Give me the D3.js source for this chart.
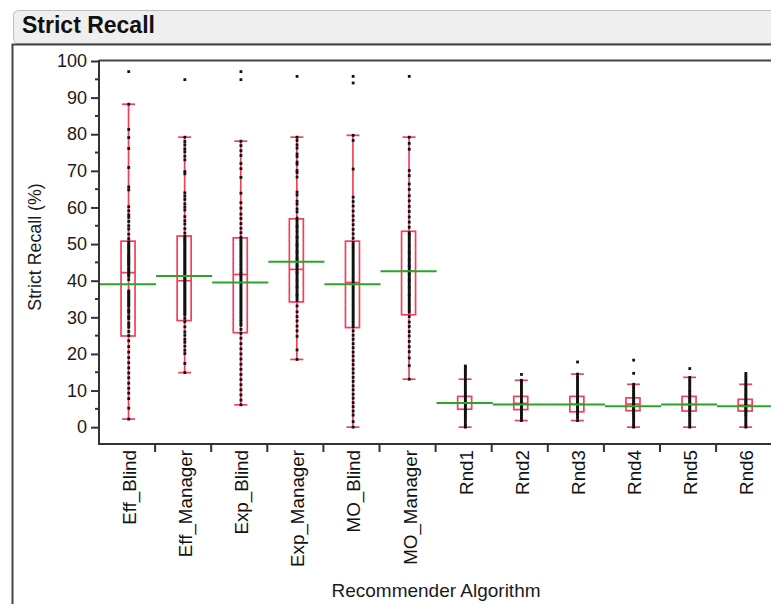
<!DOCTYPE html>
<html>
<head>
<meta charset="utf-8">
<script src="https://cdn.jsdelivr.net/npm/d3@7"></script>
<style>
html,body{margin:0;padding:0;background:#fff;}
svg{display:block;font-family:"Liberation Sans",Arial,sans-serif;}
</style>
</head>
<body>
<svg id="chart" width="771" height="604"></svg>
<script>
const categories = ["Eff_Blind","Eff_Manager","Exp_Blind","Exp_Manager","MO_Blind","MO_Manager","Rnd1","Rnd2","Rnd3","Rnd4","Rnd5","Rnd6"];
const whiskerLow  = [2.2, 14.9, 6.1, 18.5, 0.0, 13.1, 0.0, 1.8, 1.8, 0.0, 0.0, 0.0];
const q1          = [24.9, 29.1, 25.8, 34.2, 27.2, 30.7, 4.9, 4.8, 4.2, 4.5, 4.4, 4.4];
const median      = [42.2, 40.0, 41.7, 43.1, 39.5, 42.6, 6.6, 6.5, 6.3, 6.3, 6.2, 6.0];
const q3          = [50.8, 52.2, 51.7, 56.9, 50.8, 53.5, 8.4, 8.4, 8.4, 8.0, 8.4, 7.6];
const whiskerHigh = [88.2, 79.2, 78.1, 79.2, 79.7, 79.2, 13.1, 12.8, 14.5, 11.7, 13.6, 11.7];
const means       = [39.0, 41.3, 39.5, 45.2, 39.0, 42.6, 6.6, 6.2, 6.2, 5.7, 6.2, 5.7];
const yTicks = [0,10,20,30,40,50,60,70,80,90,100];

const ptsEffBlind = [97.1,88.2,81.3,79.1,76.1,70.9,65.6,64.8,60.2,59.1,58.0,57.3,56.2,55.0,54.1,52.7,51.5,50.6,50.0,49.6,49.2,48.8,48.4,47.8,47.4,47.0,46.6,46.3,45.9,45.5,45.1,44.8,44.4,44.0,43.4,43.0,42.6,42.0,41.6,41.2,40.3,37.2,36.8,36.4,35.9,35.5,35.0,34.6,34.2,33.8,33.4,33.0,32.1,31.7,31.3,30.4,30.0,29.6,28.5,27.9,27.3,26.1,25.0,23.6,22.0,20.5,19.0,17.6,16.2,14.8,13.5,12.0,10.6,9.3,7.8,5.2,2.2];
const ptsEffManager = [94.9,79.2,78.0,77.1,76.0,75.2,74.0,73.0,69.8,69.2,64.0,63.1,62.2,61.0,60.1,59.3,57.5,56.4,55.5,54.2,53.0,52.1,51.6,51.2,50.8,50.4,49.9,49.5,49.0,48.6,48.1,47.7,47.2,46.8,46.3,45.9,45.4,45.0,44.5,44.1,43.6,43.2,42.7,42.3,41.9,41.4,40.9,40.5,40.0,39.6,39.1,38.7,38.2,37.8,37.3,36.9,36.4,36.0,35.5,35.1,34.6,34.2,33.7,33.3,32.8,32.4,31.9,31.5,31.0,30.6,29.7,28.8,27.4,26.0,25.1,24.0,23.2,22.1,21.0,20.1,17.4,14.9];
const ptsExpBlind = [97.1,94.9,78.1,76.9,75.5,74.2,72.0,70.6,68.2,63.9,61.3,59.8,58.2,57.0,55.6,54.3,53.1,51.9,51.3,50.8,50.2,49.7,49.1,48.6,48.0,47.5,46.9,46.4,45.8,45.3,44.7,44.2,43.6,43.1,42.5,42.0,41.5,41.0,40.4,39.9,39.3,38.8,38.2,37.7,37.1,36.6,36.0,35.5,34.9,34.4,33.8,33.3,32.7,32.2,31.6,31.1,30.5,30.0,29.4,28.9,28.3,27.8,26.7,25.6,24.3,22.8,21.4,20.0,18.6,17.2,15.8,14.4,13.0,11.6,10.2,8.8,7.4,6.1];
const ptsExpManager = [95.8,79.2,78.3,77.1,76.2,74.6,73.9,72.4,71.8,70.1,69.5,68.3,64.2,63.4,61.7,60.9,59.6,58.8,57.1,56.5,55.9,55.2,54.8,54.4,53.7,53.1,52.3,51.9,51.6,50.9,50.2,49.8,49.5,48.9,48.3,47.9,47.6,47.0,46.4,46.0,45.7,45.1,44.5,44.1,43.8,43.2,42.6,42.2,41.9,41.3,40.7,40.2,39.8,39.2,38.6,38.2,37.9,37.2,36.5,36.1,35.8,35.2,34.6,33.1,31.5,30.2,29.0,27.6,26.3,24.8,21.1,18.5];
const ptsMOBlind = [95.8,94.0,79.7,78.3,70.5,62.8,61.6,60.4,59.0,57.7,56.5,55.3,54.0,52.8,51.6,50.4,49.8,49.3,48.7,48.1,47.5,47.0,46.4,45.8,45.2,44.7,44.1,43.5,42.9,42.4,41.8,41.2,40.6,40.1,39.5,38.9,38.3,37.8,37.2,36.6,36.0,35.5,34.9,34.3,33.7,33.2,32.6,32.0,31.4,30.9,30.3,29.7,29.1,28.6,28.0,27.4,26.3,25.1,24.0,22.8,21.7,20.5,19.4,18.2,17.1,15.9,14.8,13.6,12.5,11.3,10.2,9.0,7.9,6.7,5.6,4.4,3.3,1.5,0.0];
const ptsMOManager = [95.8,79.2,77.5,75.9,70.1,68.7,66.4,64.9,63.2,61.8,60.3,58.9,57.4,56.0,54.6,53.1,52.7,52.4,51.8,51.3,50.7,50.1,49.6,49.2,48.6,48.0,47.6,47.3,46.7,46.1,45.8,45.4,44.8,44.2,43.9,43.5,42.9,42.3,41.9,41.6,41.0,40.4,40.1,39.7,39.1,38.5,38.2,37.8,37.2,36.6,36.2,35.9,35.3,34.7,34.2,33.6,33.1,32.5,31.9,31.4,30.2,28.7,27.5,26.1,24.9,23.4,22.0,20.6,18.9,16.8,13.1];
const ptsRnd1 = [16.7,16.3,15.8,15.3,14.8,14.3,13.8,13.1,12.6,12.1,11.5,11.0,10.4,9.9,9.4,8.9,8.4,8.0,7.6,7.1,6.7,6.3,5.9,5.5,5.0,4.6,4.2,3.7,3.2,2.7,2.2,1.6,1.0,0.5,0.0];
const ptsRnd2 = [14.4,12.8,12.3,11.7,11.2,10.6,10.1,9.5,9.0,8.5,8.1,7.6,7.2,6.8,6.4,6.0,5.6,5.2,4.8,4.3,3.9,3.4,2.9,2.4,1.8];
const ptsRnd3 = [17.8,14.5,13.8,13.2,12.5,11.9,11.2,10.6,10.0,9.4,8.8,8.3,7.8,7.3,6.9,6.5,6.1,5.6,5.2,4.7,4.2,3.7,3.2,2.6,1.8];
const ptsRnd4 = [18.3,14.7,11.7,11.1,10.6,10.0,9.5,9.0,8.5,8.0,7.6,7.1,6.7,6.3,5.9,5.5,5.1,4.7,4.3,3.8,3.3,2.8,2.3,1.7,1.1,0.5,0.0];
const ptsRnd5 = [16.0,13.6,13.0,12.4,11.8,11.2,10.6,10.0,9.5,9.0,8.5,8.0,7.6,7.1,6.7,6.3,5.9,5.4,5.0,4.5,4.0,3.5,3.0,2.4,1.8,1.2,0.6,0.0];
const ptsRnd6 = [14.7,14.1,13.5,12.9,12.3,11.7,11.2,10.6,10.1,9.6,9.1,8.6,8.1,7.6,7.2,6.8,6.4,6.0,5.6,5.2,4.8,4.4,3.9,3.4,2.9,2.3,1.7,1.1,0.5,0.0];
const points = [ptsEffBlind,ptsEffManager,ptsExpBlind,ptsExpManager,ptsMOBlind,ptsMOManager,ptsRnd1,ptsRnd2,ptsRnd3,ptsRnd4,ptsRnd5,ptsRnd6];

const svg = d3.select("#chart");
const W = 771, H = 604;
const red = "#f2405a", green = "#2aa52a";

// panel title bar
svg.append("rect").attr("x",13.5).attr("y",10.5).attr("width",W+20).attr("height",33)
  .attr("rx",5).attr("fill","#efefef").attr("stroke","#bdbdbd");
svg.append("text").attr("x",22).attr("y",33).attr("font-size",23).attr("font-weight","bold")
  .attr("fill","#111").text("Strict Recall");
// outer frame
svg.append("path").attr("d",`M12.5,${H} V44.5 H${W}`).attr("fill","none").attr("stroke","#444").attr("stroke-width",2);

const x0 = 99, bw = 56.1;
const x = d3.scaleBand().domain(categories).range([x0, x0 + bw*categories.length]).padding(0);
const y = d3.scaleLinear().domain([-4.6, 100]).range([444, 61]);

// plot top line
svg.append("line").attr("x1",x0).attr("x2",W).attr("y1",60.5).attr("y2",60.5).attr("stroke","#444").attr("stroke-width",2);

// y axis
const yAxis = d3.axisLeft(y).tickValues(yTicks).tickSize(8).tickPadding(4);
const gy = svg.append("g").attr("transform",`translate(${x0},0)`).call(yAxis);
gy.select(".domain").remove();
gy.selectAll(".tick line").attr("stroke","#333").attr("stroke-width",2);
gy.selectAll(".tick text").attr("font-size",18).attr("fill","#1a1a1a").attr("font-family","Liberation Sans, Arial, sans-serif");
const minor = d3.range(0,20).map(i => i*10+5).filter(v => v < 100);
gy.selectAll(".minor").data(minor).enter().append("line").attr("class","minor")
  .attr("x1",-4).attr("x2",0).attr("y1",d=>y(d)).attr("y2",d=>y(d)).attr("stroke","#333").attr("stroke-width",2);
svg.append("line").attr("x1",x0).attr("x2",x0).attr("y1",60).attr("y2",445).attr("stroke","#333").attr("stroke-width",2);

// x axis
svg.append("line").attr("x1",x0-1).attr("x2",W).attr("y1",444).attr("y2",444).attr("stroke","#333").attr("stroke-width",2);
svg.selectAll(".xtick").data(categories.slice(1)).enter().append("line")
  .attr("x1",d=>x(d)).attr("x2",d=>x(d)).attr("y1",444).attr("y2",452).attr("stroke","#333").attr("stroke-width",2);
svg.selectAll(".xlab").data(categories).enter().append("text")
  .attr("transform",d=>`translate(${x(d)+x.bandwidth()/2+2.5},450) rotate(-90)`)
  .attr("text-anchor","end").attr("dominant-baseline","central")
  .attr("font-size",18.8).attr("fill","#111").text(d=>d);

// axis titles
svg.append("text").attr("transform","translate(35,247) rotate(-90)").attr("text-anchor","middle")
  .attr("dominant-baseline","central").attr("font-size",17.8).attr("fill","#1a1a1a").text("Strict Recall (%)");
svg.append("text").attr("x",436).attr("y",597).attr("text-anchor","middle").attr("font-size",19)
  .attr("fill","#1a1a1a").text("Recommender Algorithm");

// boxes
const plot = svg.append("g");
categories.forEach((c,i) => {
  const cx = x(c) + x.bandwidth()/2 + 1.5;
  const g = plot.append("g");
  g.append("line").attr("x1",cx).attr("x2",cx).attr("y1",y(whiskerLow[i])).attr("y2",y(whiskerHigh[i]))
    .attr("stroke",red).attr("stroke-width",1.7);
  [whiskerLow[i], whiskerHigh[i]].forEach(v => {
    g.append("line").attr("x1",cx-6.5).attr("x2",cx+6.5).attr("y1",y(v)).attr("y2",y(v))
      .attr("stroke",red).attr("stroke-width",1.7);
  });
  g.append("rect").attr("x",cx-7.5).attr("width",14).attr("y",y(q3[i])).attr("height",y(q1[i])-y(q3[i]))
    .attr("fill","none").attr("stroke",red).attr("stroke-width",1.7);
  g.append("line").attr("x1",cx-7.5).attr("x2",cx+6.5).attr("y1",y(median[i])).attr("y2",y(median[i]))
    .attr("stroke",red).attr("stroke-width",1.7);
  g.selectAll(".pt").data(points[i]).enter().append("rect")
    .attr("x",cx-1.2).attr("y",d=>y(d)-1.4).attr("width",2.8).attr("height",2.8).attr("fill","#111");
  plot.append("line").attr("x1",x(c)+1).attr("x2",x(c)+x.bandwidth()+1).attr("y1",y(means[i])).attr("y2",y(means[i]))
    .attr("stroke",green).attr("stroke-width",2);
});
</script>
</body>
</html>
